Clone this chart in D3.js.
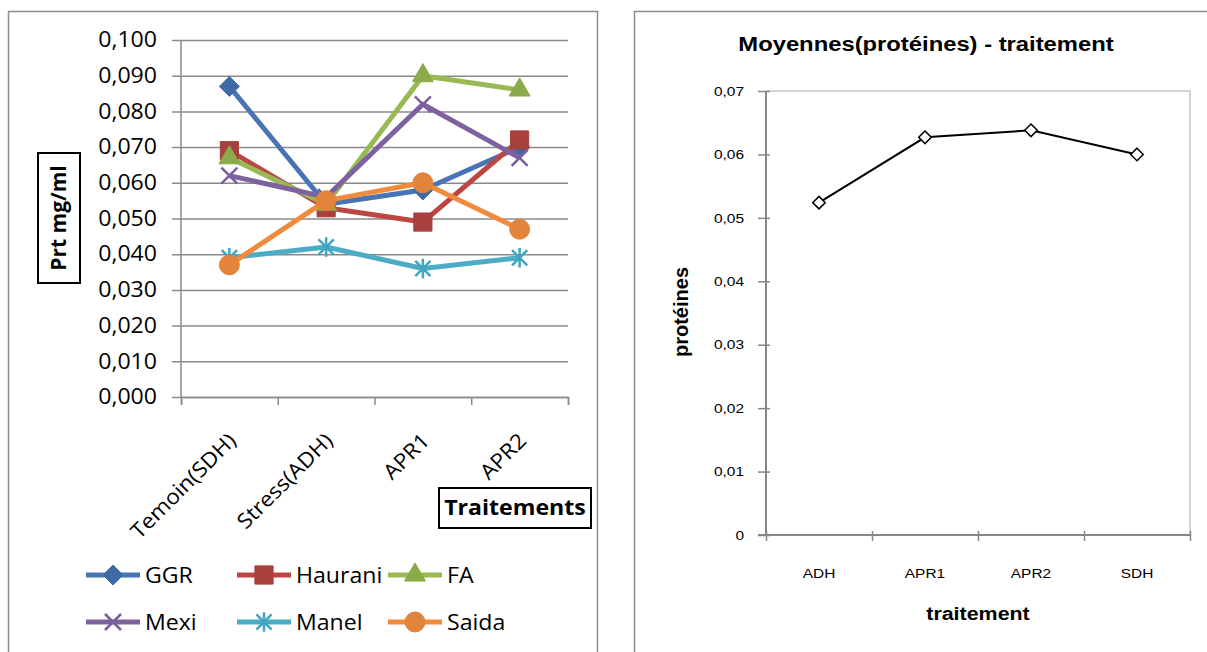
<!DOCTYPE html>
<html><head><meta charset="utf-8">
<script src="https://cdn.jsdelivr.net/npm/d3@7"></script>
<style>body{margin:0;background:#fff}svg{display:block}</style>
</head><body><svg id="c" width="1207" height="652"></svg>
<script>
// ---------- data ----------
const categories = ["Temoin(SDH)", "Stress(ADH)", "APR1", "APR2"];
const seriesNames = ["GGR", "Haurani", "FA", "Mexi", "Manel", "Saida"];
const ggr     = [0.087, 0.054, 0.058, 0.070];
const haurani = [0.069, 0.053, 0.049, 0.072];
const fa      = [0.067, 0.054, 0.090, 0.086];
const mexi    = [0.062, 0.056, 0.082, 0.067];
const manel   = [0.039, 0.042, 0.036, 0.039];
const saida   = [0.037, 0.055, 0.060, 0.047];
const leftTicks = [0, 0.01, 0.02, 0.03, 0.04, 0.05, 0.06, 0.07, 0.08, 0.09, 0.1];
const leftYTitle = "Prt mg/ml";
const leftXTitle = "Traitements";

const meanCategories = ["ADH", "APR1", "APR2", "SDH"];
const meanValues = [0.0524, 0.0627, 0.0638, 0.0600];
const rightTicks = [0, 0.01, 0.02, 0.03, 0.04, 0.05, 0.06, 0.07];
const rightTitle = "Moyennes(protéines) - traitement";
const rightXTitle = "traitement";
const rightYTitle = "protéines";

// ---------- styles ----------
const lineColors   = ["#4674B4", "#BC4642", "#98B954", "#7E62A0", "#4BACC6", "#F08A3C"];
const markerColors = ["#3E6AA8", "#A8403D", "#8AAB48", "#7A5E9D", "#3FA5C0", "#E2843C"];
const LF = "'Open Sans', sans-serif";
const RF = "'Liberation Sans', Arial, sans-serif";
const SX_L = 1.1, SX_R = 1.19;

const svg = d3.select("#c");
svg.append("rect").attr("width", 1207).attr("height", 652).attr("fill", "#fff");

// frames
svg.append("rect").attr("x", 8.5).attr("y", 11.5).attr("width", 589).attr("height", 700)
  .attr("fill", "none").attr("stroke", "#8c8c8c").attr("stroke-width", 1.5);
svg.append("rect").attr("x", 634.5).attr("y", 11.5).attr("width", 700).attr("height", 700)
  .attr("fill", "none").attr("stroke", "#8c8c8c").attr("stroke-width", 1.5);

// symbols
const symTimes = {draw(ctx, size){ const r = Math.sqrt(size)/2; ctx.moveTo(-r,-r); ctx.lineTo(r,r); ctx.moveTo(-r,r); ctx.lineTo(r,-r);} };
const symStar = {draw(ctx, size){ const r = Math.sqrt(size)/2; const a = r*0.78;
  ctx.moveTo(0,-r); ctx.lineTo(0,r); ctx.moveTo(-a,-a); ctx.lineTo(a,a); ctx.moveTo(-a,a); ctx.lineTo(a,-a);} };
const markerDefs = [
  {type: d3.symbolDiamond2, size: 255, fill: true},
  {type: d3.symbolSquare, size: 330, fill: true},
  {type: d3.symbolTriangle, size: 190, fill: true},
  {type: symTimes, size: 256, fill: false},
  {type: symStar, size: 380, fill: false},
  {type: d3.symbolCircle, size: 314, fill: true}
];
function drawMarker(g, i, x, y) {
  const m = markerDefs[i];
  const p = g.append("path").attr("d", d3.symbol().type(m.type).size(m.size)())
    .attr("transform", `translate(${x},${y})`);
  if (m.fill) p.attr("fill", markerColors[i]).attr("stroke", markerColors[i]).attr("stroke-width", 1);
  else p.attr("fill", "none").attr("stroke", markerColors[i]).attr("stroke-width", 2.5);
}

// ---------- LEFT CHART ----------
const x = d3.scaleBand().domain(categories).range([181, 568]);
const y = d3.scaleLinear().domain([0, 0.1]).range([397, 40]);
const fmtL = d => d3.format(".3f")(d).replace(".", ",");

const gy = svg.append("g").attr("transform", "translate(568,0)")
  .call(d3.axisLeft(y).tickValues(leftTicks).tickSizeInner(396).tickSizeOuter(0).tickFormat(fmtL));
gy.select(".domain").remove();
gy.selectAll("line").attr("stroke", "#8a8a8a").attr("stroke-width", 1.5);
gy.selectAll("text").attr("x", 0).attr("transform", `translate(-411,0) scale(${SX_L},1)`)
  .attr("font-family", LF).attr("font-size", 21).attr("fill", "#000");

// y axis line
svg.append("line").attr("x1", 181).attr("x2", 181).attr("y1", 40).attr("y2", 397)
  .attr("stroke", "#8a8a8a").attr("stroke-width", 1.5);
// x axis boundary ticks
const xb = d3.scaleLinear().domain([0, 4]).range([181, 568]);
const gxb = svg.append("g").attr("transform", "translate(0,397)")
  .call(d3.axisBottom(xb).tickValues([0, 1, 2, 3, 4]).tickSize(8).tickFormat(""));
gxb.select(".domain").attr("stroke", "#8a8a8a").attr("stroke-width", 1.5);
gxb.selectAll("line").attr("stroke", "#8a8a8a").attr("stroke-width", 1.5);
// x labels
const gx = svg.append("g").attr("transform", "translate(0,397)")
  .call(d3.axisBottom(x).tickSize(0));
gx.select(".domain").remove();
gx.selectAll("text").attr("x", 0).attr("y", 0).attr("dy", 0)
  .attr("text-anchor", "end")
  .attr("transform", `translate(8,45) rotate(-45) scale(1.08,1)`)
  .attr("font-family", LF).attr("font-size", 21).attr("fill", "#000");

// series
const allSeries = [ggr, haurani, fa, mexi, manel, saida];
const line = d3.line().x((d, i) => x(categories[i]) + x.bandwidth()/2).y(d => y(d));
const gs = svg.append("g");
allSeries.forEach((s, k) => {
  gs.append("path").datum(s).attr("d", line).attr("fill", "none")
    .attr("stroke", lineColors[k]).attr("stroke-width", 5).attr("stroke-linejoin", "round");
  s.forEach((v, i) => drawMarker(gs, k, x(categories[i]) + x.bandwidth()/2, y(v)));
});

// y title box
svg.append("rect").attr("x", 38).attr("y", 153).attr("width", 42).attr("height", 130)
  .attr("fill", "#fff").attr("stroke", "#000").attr("stroke-width", 2);
svg.append("text").attr("transform", "translate(66,218) rotate(-90)")
  .attr("text-anchor", "middle").attr("font-family", LF).attr("font-weight", "bold")
  .attr("font-size", 21).text(leftYTitle);
// x title box
svg.append("rect").attr("x", 439).attr("y", 488).attr("width", 152).attr("height", 40)
  .attr("fill", "#fff").attr("stroke", "#000").attr("stroke-width", 2);
svg.append("text").attr("transform", `translate(515,515) scale(${SX_L},1)`)
  .attr("text-anchor", "middle").attr("font-family", LF).attr("font-weight", "bold")
  .attr("font-size", 21).text(leftXTitle);

// legend
const legX = [86, 237, 388], legY = [575, 622];
seriesNames.forEach((name, k) => {
  const cx = legX[k % 3], cy = legY[Math.floor(k / 3)];
  const g = svg.append("g");
  g.append("line").attr("x1", cx).attr("x2", cx + 54).attr("y1", cy).attr("y2", cy)
    .attr("stroke", lineColors[k]).attr("stroke-width", 5);
  drawMarker(g, k, cx + 27, cy);
  g.append("text").attr("transform", `translate(${cx + 59},${cy + 8}) scale(${SX_L},1)`)
    .attr("font-family", LF).attr("font-size", 21).attr("fill", "#000").text(name);
});

// ---------- RIGHT CHART ----------
const xR = d3.scaleBand().domain(meanCategories).range([766, 1190]);
const yR = d3.scaleLinear().domain([0, 0.07]).range([535, 91]);
const fmtR = d => d === 0 ? "0" : d3.format(".2f")(d).replace(".", ",");

svg.append("text").attr("transform", `translate(926,51) scale(${SX_R},1)`)
  .attr("text-anchor", "middle").attr("font-family", RF).attr("font-weight", "bold")
  .attr("font-size", 20).text(rightTitle);

// light frame
svg.append("path").attr("d", `M766,${yR(0.07)}H1190V${yR(0)}`).attr("fill", "none")
  .attr("stroke", "#c8c8c8").attr("stroke-width", 1.5);

const gyR = svg.append("g").attr("transform", "translate(770,0)")
  .call(d3.axisLeft(yR).tickValues(rightTicks).tickSizeInner(12).tickSizeOuter(0).tickFormat(fmtR));
gyR.select(".domain").remove();
gyR.selectAll("line").attr("stroke", "#868686").attr("stroke-width", 1.5);
gyR.selectAll("text").attr("x", 0).attr("transform", `translate(-26,0) scale(${SX_R},1)`)
  .attr("font-family", RF).attr("font-size", 13).attr("fill", "#000");
svg.append("line").attr("x1", 766).attr("x2", 766).attr("y1", yR(0.07)).attr("y2", yR(0))
  .attr("stroke", "#868686").attr("stroke-width", 2);

const xbR = d3.scaleLinear().domain([0, 4]).range([766, 1190]);
const gxbR = svg.append("g").attr("transform", "translate(0,531)")
  .call(d3.axisBottom(xbR).tickValues([0, 1, 2, 3, 4]).tickSize(10).tickFormat(""));
gxbR.select(".domain").remove();
gxbR.selectAll("line").attr("stroke", "#868686").attr("stroke-width", 1.5);
svg.append("line").attr("x1", 758).attr("x2", 1190).attr("y1", yR(0)).attr("y2", yR(0))
  .attr("stroke", "#868686").attr("stroke-width", 2);

const gxR = svg.append("g").attr("transform", "translate(0,535)")
  .call(d3.axisBottom(xR).tickSize(0));
gxR.select(".domain").remove();
gxR.selectAll("text").attr("y", 0).attr("dy", 0)
  .attr("transform", `translate(0,43)`)
  .attr("font-family", RF).attr("font-size", 13).attr("fill", "#000");
gxR.selectAll(".tick text").each(function(){ d3.select(this).attr("transform", `translate(0,43) scale(${SX_R},1)`); });

svg.append("text").attr("transform", `translate(978,620) scale(${SX_R},1)`)
  .attr("text-anchor", "middle").attr("font-family", RF).attr("font-weight", "bold")
  .attr("font-size", 18).text(rightXTitle);
svg.append("text").attr("transform", "translate(688,312) rotate(-90)")
  .attr("text-anchor", "middle").attr("font-family", RF).attr("font-weight", "bold")
  .attr("font-size", 20).text(rightYTitle);

const lineR = d3.line().x((d, i) => xR(meanCategories[i]) + xR.bandwidth()/2).y(d => yR(d));
svg.append("path").datum(meanValues).attr("d", lineR).attr("fill", "none")
  .attr("stroke", "#000").attr("stroke-width", 2);
svg.append("g").selectAll("path").data(meanValues).join("path")
  .attr("d", d3.symbol().type(d3.symbolDiamond2).size(100)())
  .attr("transform", (d, i) => `translate(${xR(meanCategories[i]) + xR.bandwidth()/2},${yR(d)})`)
  .attr("fill", "#fff").attr("stroke", "#000").attr("stroke-width", 1.5);
</script></body></html>
